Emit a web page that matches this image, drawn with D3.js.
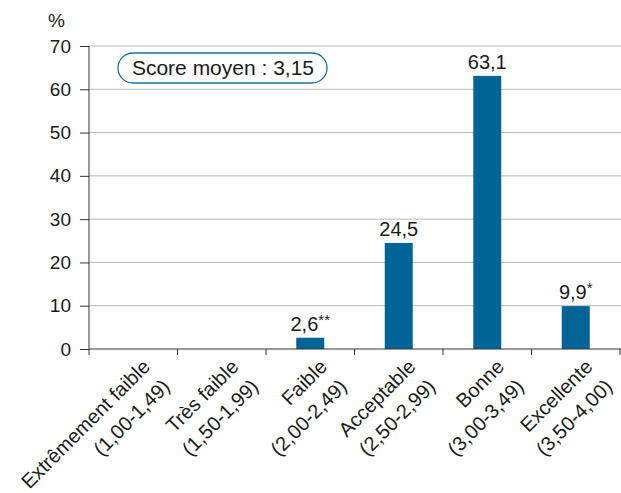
<!DOCTYPE html>
<html>
<head>
<meta charset="utf-8">
<script src="https://d3js.org/d3.v7.min.js"></script>
<style>
  body { margin: 0; background: #fff; }
  text { font-family: "Liberation Sans", Arial, sans-serif; fill: #1a1a1a; }
</style>
</head>
<body>
<svg width="621" height="493"></svg>
<script>
// data
var categories = ["Extrêmement faible", "Très faible", "Faible", "Acceptable", "Bonne", "Excellente"];
var ranges = ["(1,00-1,49)", "(1,50-1,99)", "(2,00-2,49)", "(2,50-2,99)", "(3,00-3,49)", "(3,50-4,00)"];
var values = [null, null, 2.6, 24.5, 63.1, 9.9];
var valueLabels = ["", "", "2,6", "24,5", "63,1", "9,9"];
var valueMarks = ["", "", "**", "", "", "*"];
var yTicks = [0, 10, 20, 30, 40, 50, 60, 70];
var scoreText = "Score moyen : 3,15";

var svg = d3.select("svg");
var mLeft = 89, mRight = 620, mTop = 46, mBottom = 349;

var x = d3.scaleBand().domain(categories).range([mLeft, mRight]);
var y = d3.scaleLinear().domain([0, 70]).range([mBottom, mTop]);

// gridlines
svg.append("g").selectAll("line").data(yTicks.filter(function(d){ return d > 0; })).enter().append("line")
  .attr("x1", mLeft).attr("x2", 621)
  .attr("y1", function(d){ return y(d); }).attr("y2", function(d){ return y(d); })
  .attr("stroke", "#b8b8b8").attr("stroke-width", 1);

// bars
svg.append("g").selectAll("rect").data(categories).enter().append("rect")
  .filter(function(d, i){ return values[i] != null; })
  .attr("x", function(d){ return x(d) + x.bandwidth()/2 - 14; })
  .attr("width", 28)
  .attr("y", function(d){ return y(values[categories.indexOf(d)]); })
  .attr("height", function(d){ return mBottom - y(values[categories.indexOf(d)]); })
  .attr("fill", "#006496");

// value labels
var vl = svg.append("g").selectAll("text").data(categories).enter().append("text")
  .filter(function(d, i){ return values[i] != null; })
  .attr("x", function(d){ return x(d) + x.bandwidth()/2; })
  .attr("y", function(d){ return y(values[categories.indexOf(d)]) - 7; })
  .attr("text-anchor", "middle")
  .style("font-size", "20px");
vl.append("tspan").text(function(d){ return valueLabels[categories.indexOf(d)]; });
vl.append("tspan").text(function(d){ return valueMarks[categories.indexOf(d)]; })
  .attr("dy", -6).style("font-size", "15px");

// y axis
var yAxis = svg.append("g").attr("transform", "translate(" + mLeft + ",0)")
  .call(d3.axisLeft(y).tickValues(yTicks).tickSize(9).tickPadding(9));
yAxis.select(".domain").attr("stroke", "#333").attr("d", "M0," + mTop + "V" + mBottom);
yAxis.selectAll(".tick line").attr("stroke", "#333");
yAxis.selectAll(".tick text").style("font-size", "19px").attr("fill", "#1a1a1a")
  .style("font-family", "'Liberation Sans', Arial, sans-serif");

svg.append("text").attr("x", 48).attr("y", 27).style("font-size", "19px").text("%");

// x axis
var xAxis = svg.append("g").attr("transform", "translate(0," + mBottom + ")");
xAxis.append("line").attr("x1", mLeft).attr("x2", 621).attr("stroke", "#333");
var edges = categories.map(function(d){ return x(d); }).concat([mRight]);
xAxis.selectAll(".xt").data(edges).enter().append("line")
  .attr("x1", function(d){ return d; }).attr("x2", function(d){ return d; })
  .attr("y1", 0).attr("y2", 6).attr("stroke", "#333");

var xl = svg.append("g").selectAll("text").data(categories).enter().append("text")
  .attr("transform", function(d){ return "translate(" + (x(d) + x.bandwidth()/2 + 18) + "," + (mBottom + 19) + ") rotate(-45)"; })
  .attr("text-anchor", "end")
  .style("font-size", "20px");
xl.append("tspan").attr("x", 0).attr("dy", 0).text(function(d){ return d; });
xl.append("tspan").attr("x", 0).attr("dy", "1.4em").text(function(d, i){ return ranges[i]; });

// score box
svg.append("rect").attr("x", 118).attr("y", 53).attr("width", 209).attr("height", 30)
  .attr("rx", 15).attr("fill", "#fff").attr("stroke", "#1a6fa0").attr("stroke-width", 1.3);
svg.append("text").attr("x", 223).attr("y", 75).attr("text-anchor", "middle")
  .style("font-size", "21px").text(scoreText);
</script>
</body>
</html>
